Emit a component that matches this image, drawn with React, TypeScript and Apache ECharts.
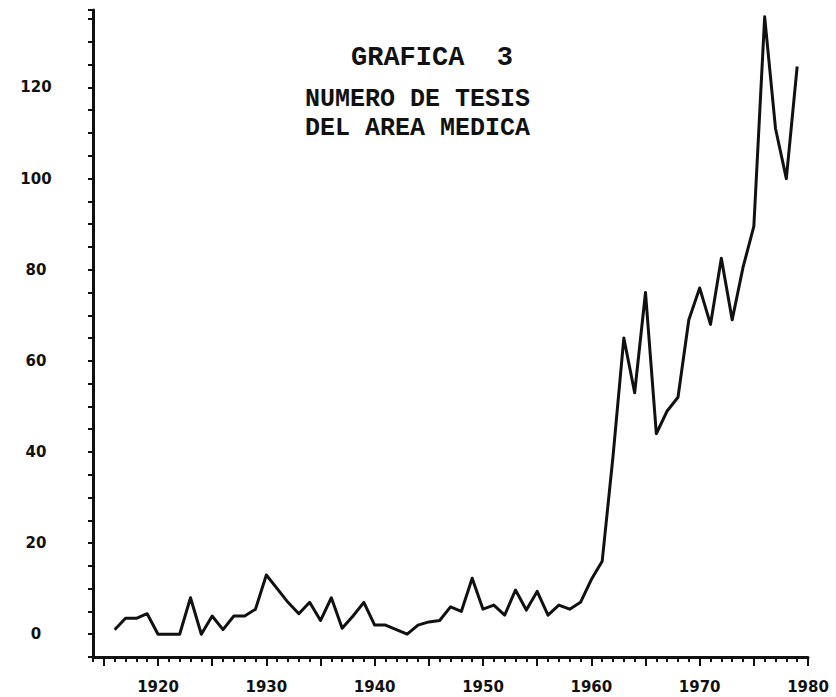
import React, { useEffect, useRef } from "react";
import * as echarts from "echarts";

const years: number[] = [
  1916, 1917, 1918, 1919, 1920, 1921, 1922, 1923, 1924, 1925, 1926, 1927, 1928, 1929,
  1930, 1931, 1932, 1933, 1934, 1935, 1936, 1937, 1938, 1939, 1940, 1941, 1942, 1943,
  1944, 1945, 1946, 1947, 1948, 1949, 1950, 1951, 1952, 1953, 1954, 1955, 1956, 1957,
  1958, 1959, 1960, 1961, 1962, 1963, 1964, 1965, 1966, 1967, 1968, 1969, 1970, 1971,
  1972, 1973, 1974, 1975, 1976, 1977, 1978, 1979,
];

const theses: number[] = [
  1, 3.5, 3.5, 4.5, 0, 0, 0, 8, 0, 4, 1, 4, 4, 5.5,
  13, 10, 7, 4.5, 7, 3, 8, 1.3, 4, 7, 2, 2, 1, 0,
  2, 2.7, 3, 6, 5, 12.3, 5.5, 6.4, 4.2, 9.7, 5.3, 9.4, 4.2, 6.4,
  5.5, 7, 12, 16, 39, 65, 53, 75, 44, 49, 52, 69, 76, 68,
  82.5, 69, 80.5, 89.5, 135.5, 111, 100, 124.6,
];

const xLabelYears: number[] = [1920, 1930, 1940, 1950, 1960, 1970, 1980];
const xLongTickYears: number[] = [1915, 1920, 1925, 1930, 1935, 1940, 1945, 1950, 1955, 1960, 1965, 1970, 1975, 1980];
const yLabelValues: number[] = [0, 20, 40, 60, 80, 100, 120];

const titleLine1 = "GRAFICA  3";
const titleLine2 = "NUMERO DE TESIS";
const titleLine3 = "DEL AREA MEDICA";

export default function App() {
  const ref = useRef<HTMLDivElement>(null);

  useEffect(() => {
    if (!ref.current) return;
    const chart = echarts.init(ref.current, undefined, { renderer: "svg" });
    const ink = "#111111";
    const labelFont = {
      color: ink,
      fontFamily: "DejaVu Sans",
      fontWeight: "bold" as const,
      fontSize: 15,
    };
    const titleFont = {
      fontFamily: "Liberation Mono",
      fontWeight: "bold" as const,
      fontSize: 25,
      lineHeight: 25,
      color: ink,
    };
    chart.setOption({
      animation: false,
      backgroundColor: "#ffffff",
      title: [
        { text: titleLine1, left: 346, top: 39, textStyle: { ...titleFont, fontSize: 27, lineHeight: 27 } },
        { text: titleLine2, left: 300, top: 82, textStyle: titleFont },
        { text: titleLine3, left: 300, top: 111, textStyle: titleFont },
      ],
      grid: { left: 93, right: 28, top: 10, bottom: 40, containLabel: false },
      xAxis: [
        {
          type: "value",
          min: 1914,
          max: 1980,
          interval: 1,
          axisLine: { show: true, onZero: false, lineStyle: { color: ink, width: 3 } },
          axisTick: { show: true, length: 5, lineStyle: { color: ink, width: 2 } },
          axisLabel: { show: false },
          splitLine: { show: false },
        },
        {
          type: "value",
          min: 1914,
          max: 1980,
          position: "bottom",
          offset: 0,
          axisLine: { show: false, onZero: false },
          axisTick: {
            show: true,
            length: 9,
            customValues: xLongTickYears,
            lineStyle: { color: ink, width: 2 },
          },
          axisLabel: {
            ...labelFont,
            margin: 22,
            customValues: xLabelYears,
            formatter: (v: number) => String(v),
          },
          splitLine: { show: false },
        },
      ],
      yAxis: {
        type: "value",
        min: -5,
        max: 137,
        interval: 5,
        axisLine: { show: true, onZero: false, lineStyle: { color: ink, width: 3 } },
        axisTick: { show: true, length: 5, lineStyle: { color: ink, width: 2 } },
        axisLabel: {
          ...labelFont,
          align: "center",
          margin: 57,
          formatter: (v: number) => (yLabelValues.indexOf(v) >= 0 ? String(v) : ""),
        },
        splitLine: { show: false },
      },
      series: [
        {
          type: "line",
          xAxisIndex: 0,
          data: years.map((y, i) => [y, theses[i]]),
          showSymbol: false,
          symbol: "none",
          lineStyle: { color: ink, width: 3, join: "round" },
        },
      ],
    });
    return () => chart.dispose();
  }, []);

  return (
    <div
      ref={ref}
      style={{ position: "fixed", left: 0, top: 0, width: 836, height: 697 }}
    />
  );
}
